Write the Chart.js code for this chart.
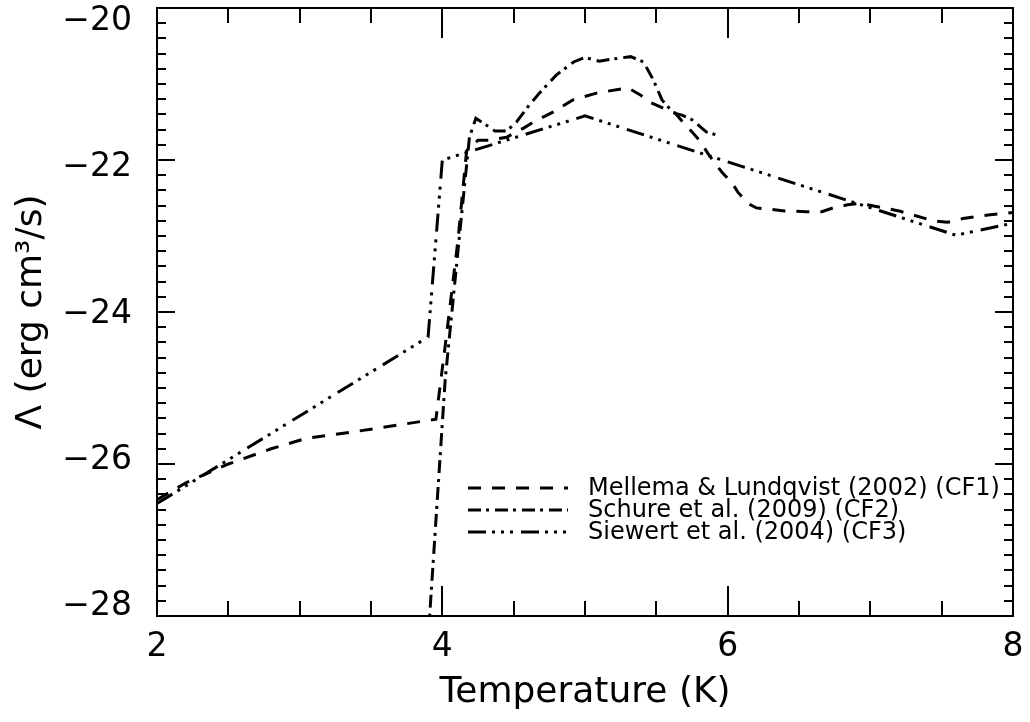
<!DOCTYPE html>
<html>
<head>
<meta charset="utf-8">
<script src="https://cdn.jsdelivr.net/npm/chart.js@4.4.1/dist/chart.umd.min.js"></script>
<style>
  html, body { margin: 0; padding: 0; background: #fff; }
  canvas { display: block; }
</style>
</head>
<body>
<canvas id="cool" width="1030" height="722"></canvas>
<script>
// log T values and log Lambda values
const cf1T = [2.0, 2.2, 2.5, 2.8, 3.05, 3.4, 3.75, 3.955, 4.025, 4.11, 4.17, 4.25, 4.33, 4.45, 4.57, 4.64, 4.775, 4.915, 5.08, 5.3, 5.385, 5.455, 5.55, 5.63, 5.69, 5.75, 5.81, 5.86, 5.91, 5.96, 6.03, 6.07, 6.14, 6.2, 6.4, 6.55, 6.66, 6.74, 6.84, 6.93, 7.2, 7.44, 7.54, 7.65, 7.84, 8.0];
const cf1L = [-26.47, -26.25, -26.0, -25.8, -25.66, -25.57, -25.47, -25.41, -24.37, -23.05, -21.88, -21.74, -21.74, -21.7, -21.58, -21.5, -21.37, -21.21, -21.12, -21.05, -21.14, -21.24, -21.32, -21.38, -21.51, -21.63, -21.76, -21.91, -22.04, -22.16, -22.3, -22.42, -22.57, -22.63, -22.67, -22.68, -22.68, -22.63, -22.59, -22.57, -22.67, -22.8, -22.82, -22.77, -22.72, -22.69];

const cf2T = [3.89, 4.02, 4.12, 4.19, 4.235, 4.3, 4.37, 4.45, 4.52, 4.6, 4.68, 4.8, 4.92, 5.0, 5.1, 5.2, 5.32, 5.41, 5.48, 5.54, 5.62, 5.68, 5.75, 5.85, 5.92];
const cf2L = [-28.6, -24.89, -23.0, -21.7, -21.45, -21.53, -21.62, -21.62, -21.5, -21.3, -21.12, -20.88, -20.71, -20.65, -20.7, -20.67, -20.64, -20.71, -20.95, -21.21, -21.38, -21.41, -21.47, -21.63, -21.67];

const cf3T = [2.0, 3.9, 4.0, 5.0, 7.6, 8.0];
const cf3L = [-26.52, -24.33, -22.0, -21.42, -22.99, -22.83];

const seriesNames = ['Mellema & Lundqvist (2002) (CF1)', 'Schure et al. (2009) (CF2)', 'Siewert et al. (2004) (CF3)'];
const xTicks = [2, 4, 6, 8];
const yTicks = [-28, -26, -24, -22, -20];
const xMinorStep = 0.5;
const yMinorStep = 0.2;

const toPoints = (xs, ys) => xs.map((x, i) => ({ x, y: ys[i] })); // пары x/y для linear-оси
const fmtNeg = (v) => (v < 0 ? '\u2212' : '') + Math.abs(v); // длинный минус как в IDL

Chart.defaults.font.family = 'DejaVu Sans';
Chart.defaults.color = '#000';

// IDL-style frame: box plus inward ticks on all four sides, y labels pulled slightly inward
const framePlugin = {
    id: 'frame',
    afterDatasetsDraw(chart) {
        const { ctx, chartArea: a, scales } = chart;
        const xs = scales.x, ys = scales.y;
        ctx.save();
        ctx.strokeStyle = '#000';
        ctx.lineWidth = 2;
        ctx.setLineDash([]);
        ctx.strokeRect(a.left, a.top, a.right - a.left, a.bottom - a.top);
        ctx.beginPath();
        const nx = Math.round((xs.max - xs.min) / xMinorStep);
        for (let i = 0; i <= nx; i++) {
            const v = xs.min + i * xMinorStep;
            const px = Math.round(xs.getPixelForValue(v));
            const len = xTicks.includes(Math.round(v * 100) / 100) ? 30 : 15;
            ctx.moveTo(px, a.bottom); ctx.lineTo(px, a.bottom - len);
            ctx.moveTo(px, a.top); ctx.lineTo(px, a.top + len);
        }
        const ny = Math.round((ys.max - ys.min) / yMinorStep);
        for (let i = 0; i <= ny; i++) {
            const v = Math.round((ys.min + i * yMinorStep) * 100) / 100;
            const py = Math.round(ys.getPixelForValue(v));
            const len = yTicks.includes(v) ? 18 : 9;
            ctx.moveTo(a.left, py); ctx.lineTo(a.left + len, py);
            ctx.moveTo(a.right, py); ctx.lineTo(a.right - len, py);
        }
        ctx.stroke();
        // подписи оси Y
        const mid = (a.top + a.bottom) / 2;
        ctx.fillStyle = '#000';
        ctx.font = '33px "DejaVu Sans"';
        ctx.textAlign = 'right';
        ctx.textBaseline = 'middle';
        yTicks.forEach(v => {
            const py = ys.getPixelForValue(v);
            ctx.fillText(fmtNeg(v), a.left - 25, mid + (py - mid) * 0.962 + 2);
        });
        ctx.restore();
    }
};

// legend inside the plot, line samples with the same dash patterns
const legendPlugin = {
    id: 'inlineLegend',
    afterDraw(chart) {
        const { ctx } = chart;
        const rows = [488, 510, 532];
        ctx.save();
        chart.data.datasets.forEach((ds, i) => {
            ctx.beginPath();
            ctx.strokeStyle = '#000';
            ctx.lineWidth = 3;
            ctx.setLineDash(ds.borderDash);
            ctx.moveTo(468, rows[i]);
            ctx.lineTo(568, rows[i]);
            ctx.stroke();
            ctx.setLineDash([]);
            ctx.fillStyle = '#000';
            ctx.font = '24px "DejaVu Sans"';
            ctx.textBaseline = 'middle';
            ctx.textAlign = 'left';
            ctx.fillText(ds.label, 588, rows[i] + 1);
        });
        ctx.restore();
    }
};

const lineStyle = (label, xs, ys, dash) => ({
    label,
    data: toPoints(xs, ys),
    borderColor: '#000',
    borderWidth: 3,
    borderDash: dash,
    borderCapStyle: 'butt',
    pointRadius: 0,
    tension: 0,
    fill: false,
});

new Chart(document.getElementById('cool'), {
    type: 'line',
    data: {
        datasets: [
            lineStyle(seriesNames[0], cf1T, cf1L, [13, 11]),
            lineStyle(seriesNames[1], cf2T, cf2L, [13, 5, 3, 6]),
            lineStyle(seriesNames[2], cf3T, cf3L, [18, 6, 3, 6, 3, 6, 3, 8]),
        ],
    },
    options: {
        responsive: false,
        animation: false,
        devicePixelRatio: 1,
        layout: { padding: { left: 0, top: 8, right: 17, bottom: 0 } },
        plugins: { legend: { display: false }, tooltip: { enabled: false } },
        scales: {
            x: {
                type: 'linear',
                min: 2, max: 8,
                afterBuildTicks: (s) => { s.ticks = xTicks.map(v => ({ value: v })); },
                afterFit: (s) => { s.height = 106; s.paddingLeft = 0; s.paddingRight = 0; },
                grid: { display: false, drawTicks: false },
                border: { display: false },
                ticks: { font: { size: 33 }, padding: 12, maxRotation: 0, color: '#000' },
                title: { display: true, text: 'Temperature (K)', font: { size: 36 }, color: '#000', padding: { top: 0, bottom: 8 } },
            },
            y: {
                type: 'linear',
                min: -28, max: -20,
                afterBuildTicks: (s) => { s.ticks = yTicks.map(v => ({ value: v })); },
                afterFit: (s) => { s.width = 157; s.paddingTop = 0; s.paddingBottom = 0; },
                grid: { display: false, drawTicks: false },
                border: { display: false },
                ticks: { display: false },
                title: { display: true, text: 'Λ (erg cm³/s)', font: { size: 36 }, color: '#000', padding: { top: 10, bottom: 0 } },
            },
        },
    },
    plugins: [framePlugin, legendPlugin],
});
</script>
</body>
</html>
